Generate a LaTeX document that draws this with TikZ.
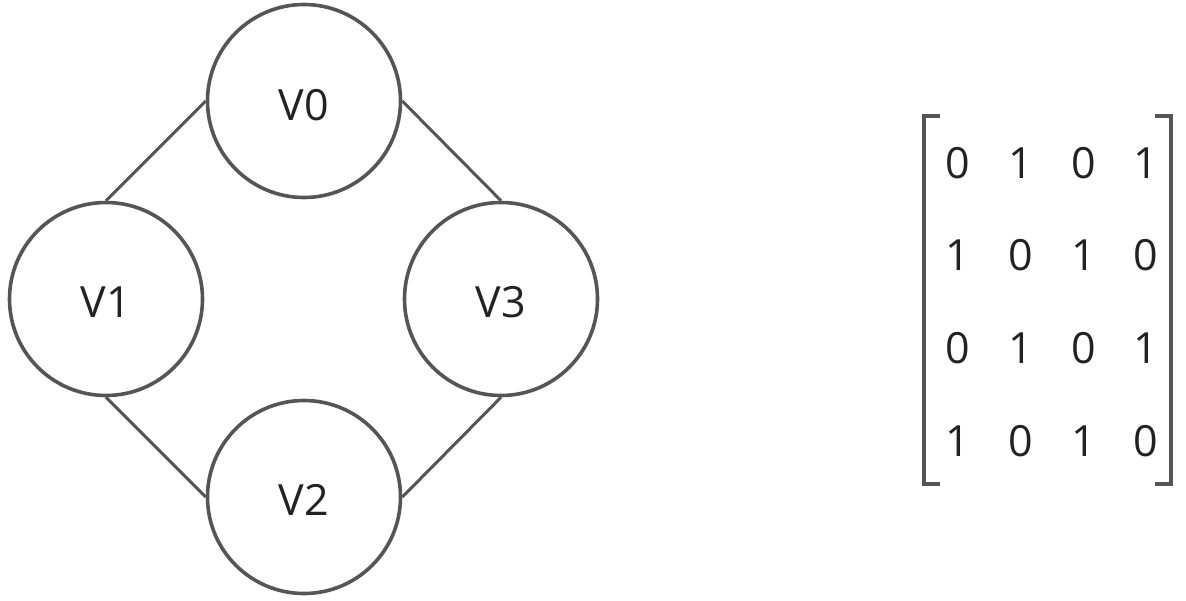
\documentclass[tikz,border=0pt]{standalone}
\usepackage{fontspec}
\setmainfont{Open Sans}
\definecolor{edgegray}{HTML}{555555}
\definecolor{txt}{HTML}{222222}
\begin{document}
\begin{tikzpicture}[x=1pt,y=-1pt,
  vertex/.style={circle,draw=edgegray,line width=3.6pt,minimum size=193pt,inner sep=0pt,text=txt,font=\fontsize{43}{43}\selectfont},
  conn/.style={draw=edgegray,line width=3pt},
  entry/.style={text=txt,font=\fontsize{43}{43}\selectfont,inner sep=0pt},
  brk/.style={draw=edgegray,line width=3.6pt}]
\useasboundingbox (0,0) rectangle (1186,600);
\node[vertex] (v0) at (304,101) {};
\node[vertex] (v1) at (106,299) {};
\node[vertex] (v3) at (501,299) {};
\node[vertex] (v2) at (304,497) {};
\node[entry] (l0) at (304,105) {V0};
\node[entry] (l1) at (106,302) {V1};
\node[entry] (l3) at (501,302) {V3};
\node[entry] (l2) at (304,500) {V2};
\draw[conn] (v0.west) -- (v1.north);
\draw[conn] (v0.east) -- (v3.north);
\draw[conn] (v1.south) -- (v2.west);
\draw[conn] (v3.south) -- (v2.east);
% matrix
\foreach \r/\y/\a/\b/\c/\d in {1/163/0/1/0/1, 2/255/1/0/1/0, 3/348/0/1/0/1, 4/441/1/0/1/0}{
  \node[entry] (m\r a) at (958,\y) {\a};
  \node[entry] (m\r b) at (1021,\y) {\b};
  \node[entry] (m\r c) at (1084,\y) {\c};
  \node[entry] (m\r d) at (1146,\y) {\d};
}
\draw[brk] (940,116) -- (924,116) -- (924,484) -- (940,484);
\draw[brk] (1155,116) -- (1171,116) -- (1171,484) -- (1155,484);
\end{tikzpicture}
\end{document}
